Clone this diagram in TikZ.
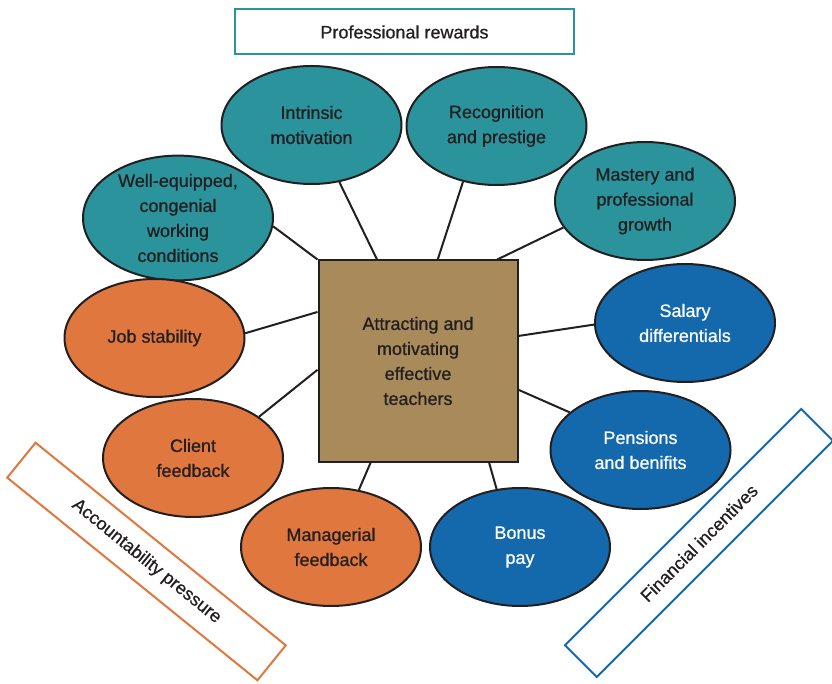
\documentclass[tikz,border=0pt]{standalone}
\usepackage{fontspec}
\setmainfont[FakeBold=0.7]{Liberation Sans}
\usetikzlibrary{shapes.geometric}
\definecolor{proteal}{HTML}{2A939C}
\definecolor{accorange}{HTML}{DF773F}
\definecolor{finblue}{HTML}{1468AC}
\definecolor{coretan}{HTML}{A88A5B}
\definecolor{inkdark}{HTML}{231F20}

\begin{document}
\begin{tikzpicture}[x=1pt,y=-1pt,
  every node/.style={font=\fontsize{18}{25}\selectfont, text=inkdark, align=center},
  bubble/.style={ellipse, draw=inkdark, line width=2pt, fill=#1, inner sep=0pt,
    minimum width=180pt, minimum height=118pt},
  banner/.style={draw=#1, line width=2pt, fill=white, minimum height=45pt},
  link/.style={draw=inkdark, line width=2pt}]
  \useasboundingbox (0,0) rectangle (832,684);
  \node[banner=proteal, minimum width=339pt] (prof) at (404.5,32) {Professional rewards};
  \node[banner=accorange, minimum width=322pt, rotate=-39] (acc) at (146.5,561.5) {Accountability pressure};
  \node[banner=finblue, minimum width=334pt, rotate=45] (fin) at (699,543) {Financial incentives};
  \node[draw=inkdark, line width=2pt, fill=coretan, minimum width=199pt, minimum height=201pt]
    (core) at (418,361) {Attracting and\\motivating\\effective\\teachers};
  \node[bubble=proteal] (intr) at (311.5,125) {Intrinsic\\motivation};
  \node[bubble=proteal] (recog) at (496.5,126) {Recognition\\and prestige};
  \node[bubble=proteal] (mast) at (645,201) {Mastery and\\professional\\growth};
  \node[bubble=proteal, minimum width=190pt, minimum height=124pt] (well) at (178,218)
    {Well-equipped,\\congenial\\working\\conditions};
  \node[bubble=accorange] (job) at (154.5,338) {Job stability};
  \node[bubble=accorange] (client) at (193,458) {Client\\feedback};
  \node[bubble=accorange] (manag) at (331,547) {Managerial\\feedback};
  \node[bubble=finblue, text=white] (bonus) at (520,547) {Bonus\\pay};
  \node[bubble=finblue, text=white] (pens) at (640.5,450) {Pensions\\and benifits};
  \node[bubble=finblue, text=white] (salary) at (685,323) {Salary\\differentials};
  \draw[link] (core.112) -- (intr.296);
  \draw[link] (core.79) -- (recog.239);
  \draw[link] (core.52) -- (mast.198);
  \draw[link] (core.north west) -- (well.355);
  \draw[link] (core.154) -- (job.3);
  \draw[link] (core.185) -- (client.32);
  \draw[link] (core.245) -- (manag.64);
  \draw[link] (core.305) -- (bonus.112);
  \draw[link] (core.344) -- (pens.152);
  \draw[link] (core.14) -- (salary.181);
\end{tikzpicture}
\end{document}
